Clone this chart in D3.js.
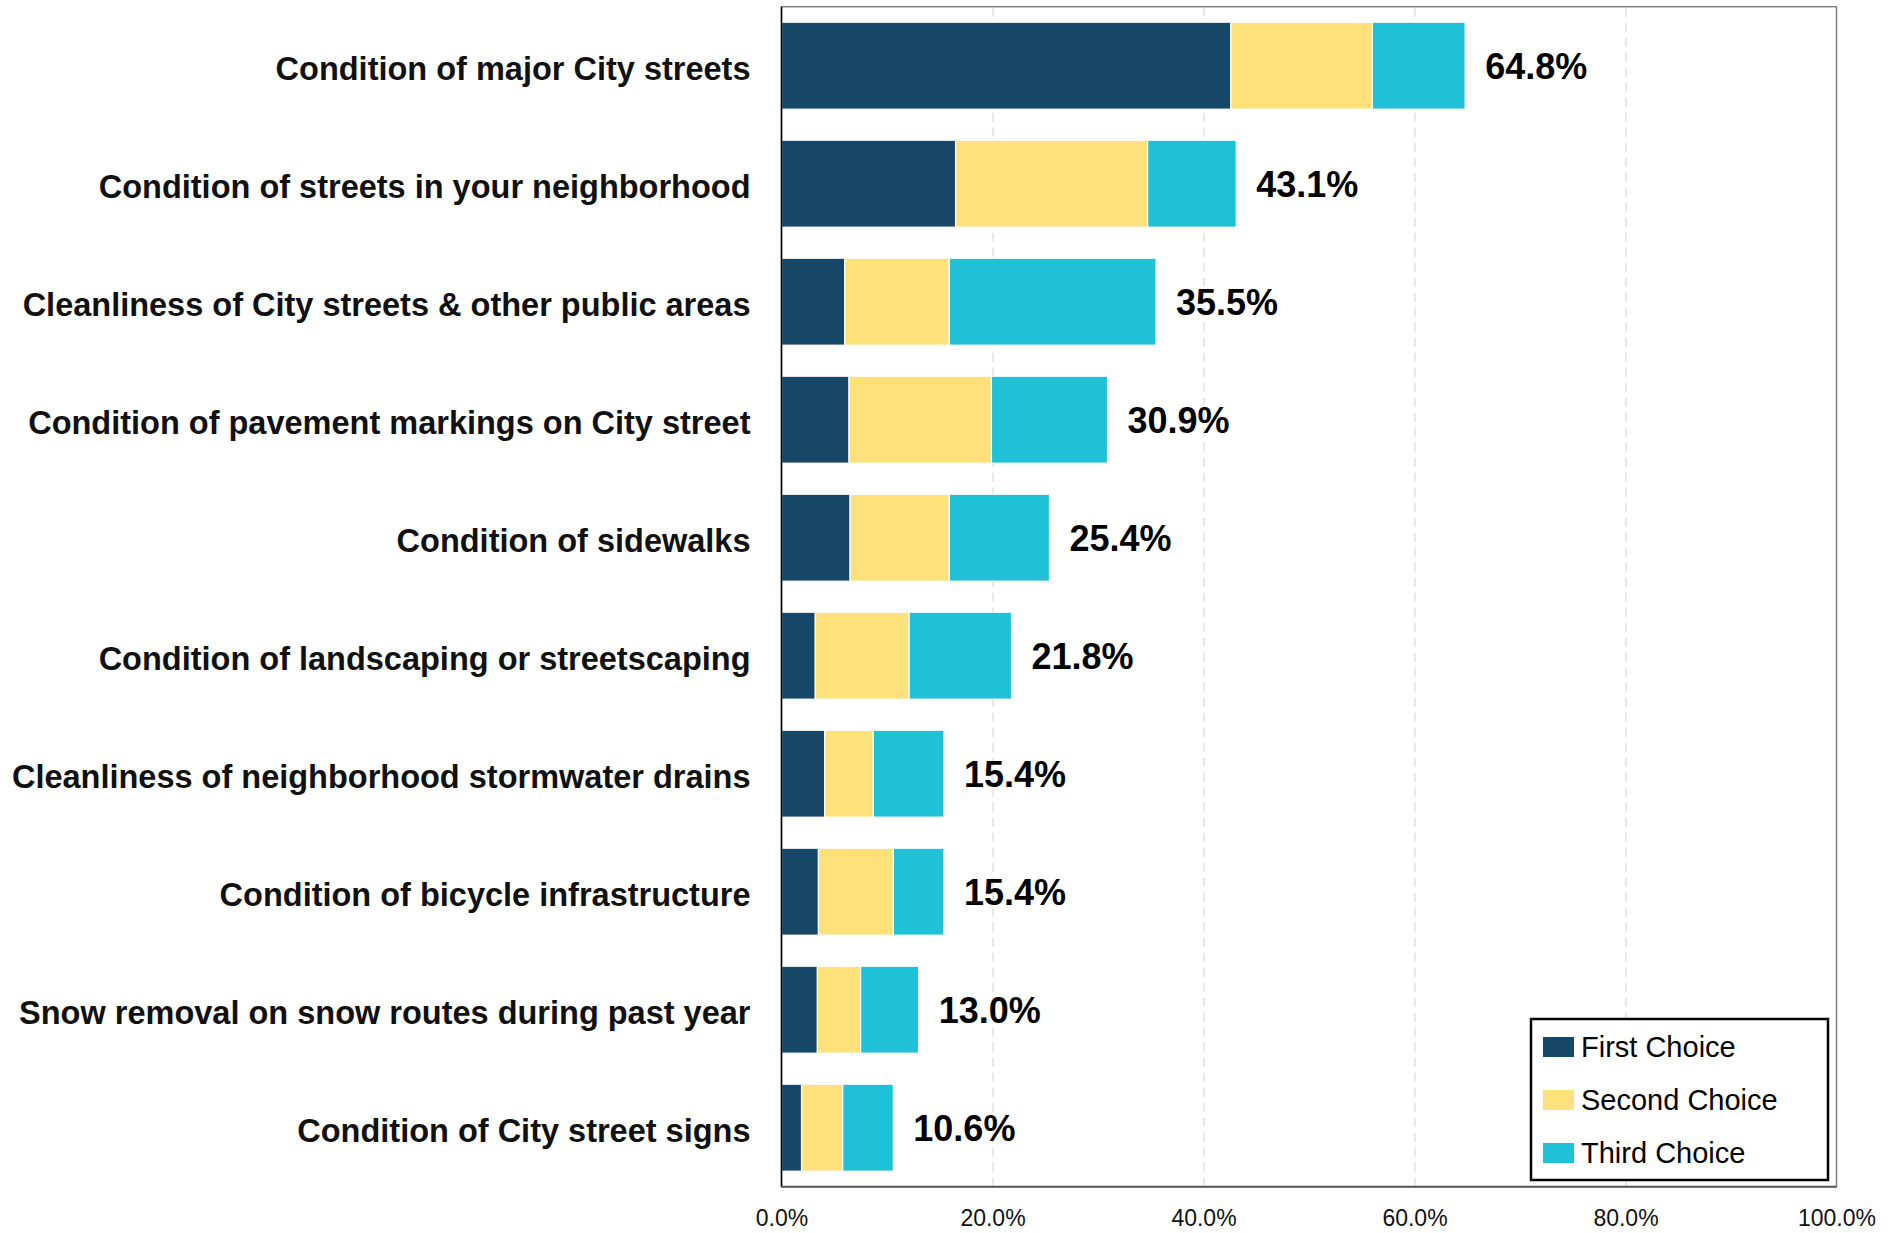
<!DOCTYPE html>
<html>
<head>
<meta charset="utf-8">
<script src="https://cdn.jsdelivr.net/npm/d3@7"></script>
<style>
  body { margin: 0; background: #fff; }
  text { font-family: "Liberation Sans", Arial, sans-serif; }
</style>
</head>
<body>
<svg id="chart" width="1898" height="1233"></svg>
<script>
var categories = [
    "Condition of major City streets",
    "Condition of streets in your neighborhood",
    "Cleanliness of City streets & other public areas",
    "Condition of pavement markings on City street",
    "Condition of sidewalks",
    "Condition of landscaping or streetscaping",
    "Cleanliness of neighborhood stormwater drains",
    "Condition of bicycle infrastructure",
    "Snow removal on snow routes during past year",
    "Condition of City street signs"
];
var firstChoice = [42.6, 16.5, 6.0, 6.4, 6.5, 3.2, 4.1, 3.5, 3.4, 1.9];
var secondChoice = [13.4, 18.2, 9.9, 13.5, 9.4, 8.9, 4.6, 7.1, 4.1, 3.9];
var thirdChoice = [8.8, 8.4, 19.6, 11.0, 9.5, 9.7, 6.7, 4.8, 5.5, 4.8];
var totals = [64.8, 43.1, 35.5, 30.9, 25.4, 21.8, 15.4, 15.4, 13.0, 10.6];
var seriesNames = ["First Choice", "Second Choice", "Third Choice"];
var tickValues = [0, 20, 40, 60, 80, 100];

var colors = ["#164766", "#ffe17b", "#1fc1d7"];

var svg = d3.select("#chart"),
    margin = {top: 6.7, left: 781.5, right: 61.5, bottom: 46.3},
    width = 1898 - margin.left - margin.right,
    height = 1233 - margin.top - margin.bottom,
    g = svg.append("g").attr("transform", "translate(" + margin.left + "," + margin.top + ")");

var rows = categories.map(function (c, i) {
    return {cat: c, first: firstChoice[i], second: secondChoice[i], third: thirdChoice[i], total: totals[i]};
});

var x = d3.scaleLinear().domain([0, 100]).range([0, width]);
var y = d3.scaleBand().domain(categories).range([0, height])
    .paddingInner(0.263).paddingOuter(0.1315);

// dashed grid
g.append("g")
    .attr("class", "grid")
    .attr("transform", "translate(0," + height + ")")
    .call(d3.axisBottom(x).tickValues([20, 40, 60, 80]).tickSize(-height).tickFormat(""))
    .call(function (s) {
        s.select(".domain").remove();
        s.selectAll("line").attr("stroke", "#d9d9d9").attr("stroke-width", 1.2)
            .attr("stroke-dasharray", "9,6");
    });

var stacked = d3.stack().keys(["first", "second", "third"])(rows);

g.selectAll(".series")
    .data(stacked)
    .enter().append("g")
    .attr("class", "series")
    .attr("fill", function (d, i) { return colors[i]; })
    .selectAll("rect")
    .data(function (d) { return d; })
    .enter().append("rect")
    .attr("x", function (d) { return x(d[0]); })
    .attr("y", function (d) { return y(d.data.cat); })
    .attr("width", function (d) { return x(d[1]) - x(d[0]); })
    .attr("height", y.bandwidth())
    .attr("stroke", "#fff")
    .attr("stroke-width", 1.2);

// value labels
g.selectAll(".val")
    .data(rows)
    .enter().append("text")
    .attr("class", "val")
    .attr("x", function (d) { return x(d.total) + 20; })
    .attr("y", function (d) { return y(d.cat) + y.bandwidth() / 2; })
    .attr("dy", "0.38em")
    .attr("font-size", "36px")
    .attr("font-weight", "bold")
    .attr("fill", "#000")
    .text(function (d) { return d.total.toFixed(1) + "%"; });

// category labels
g.selectAll(".cat")
    .data(rows)
    .enter().append("text")
    .attr("class", "cat")
    .attr("x", -31)
    .attr("y", function (d) { return y(d.cat) + y.bandwidth() / 2; })
    .attr("dy", "0.43em")
    .attr("text-anchor", "end")
    .attr("font-size", "32.5px")
    .attr("font-weight", "bold")
    .attr("fill", "#111")
    .text(function (d) { return d.cat; });

// frame
g.append("rect")
    .attr("width", width).attr("height", height)
    .attr("fill", "none").attr("stroke", "#808080").attr("stroke-width", 1.5);
g.append("line")
    .attr("x1", 0).attr("x2", 0).attr("y1", 0).attr("y2", height)
    .attr("stroke", "#000").attr("stroke-width", 1.5);
g.append("line")
    .attr("x1", 0).attr("x2", width).attr("y1", height).attr("y2", height)
    .attr("stroke", "#595959").attr("stroke-width", 2);

// x axis
g.append("g")
    .attr("class", "x axis")
    .attr("transform", "translate(0," + height + ")")
    .call(d3.axisBottom(x).tickValues(tickValues).tickSize(0).tickPadding(23)
        .tickFormat(function (d) { return d.toFixed(1) + "%"; }))
    .call(function (s) {
        s.select(".domain").remove();
        s.selectAll("text").attr("font-size", "23px").attr("fill", "#111")
            .attr("font-family", "'Liberation Sans', Arial, sans-serif");
    });

// legend
var legend = svg.append("g").attr("transform", "translate(1531,1019)");
legend.append("rect")
    .attr("width", 297).attr("height", 161)
    .attr("fill", "#fff").attr("stroke", "#000").attr("stroke-width", 2.5);
var items = legend.selectAll(".item")
    .data(seriesNames)
    .enter().append("g")
    .attr("class", "item")
    .attr("transform", function (d, i) { return "translate(12," + (18 + i * 53) + ")"; });
items.append("rect")
    .attr("width", 31).attr("height", 20)
    .attr("fill", function (d, i) { return colors[i]; });
items.append("text")
    .attr("x", 38).attr("y", 20)
    .attr("font-size", "29px")
    .attr("fill", "#000")
    .text(function (d) { return d; });
</script>
</body>
</html>
